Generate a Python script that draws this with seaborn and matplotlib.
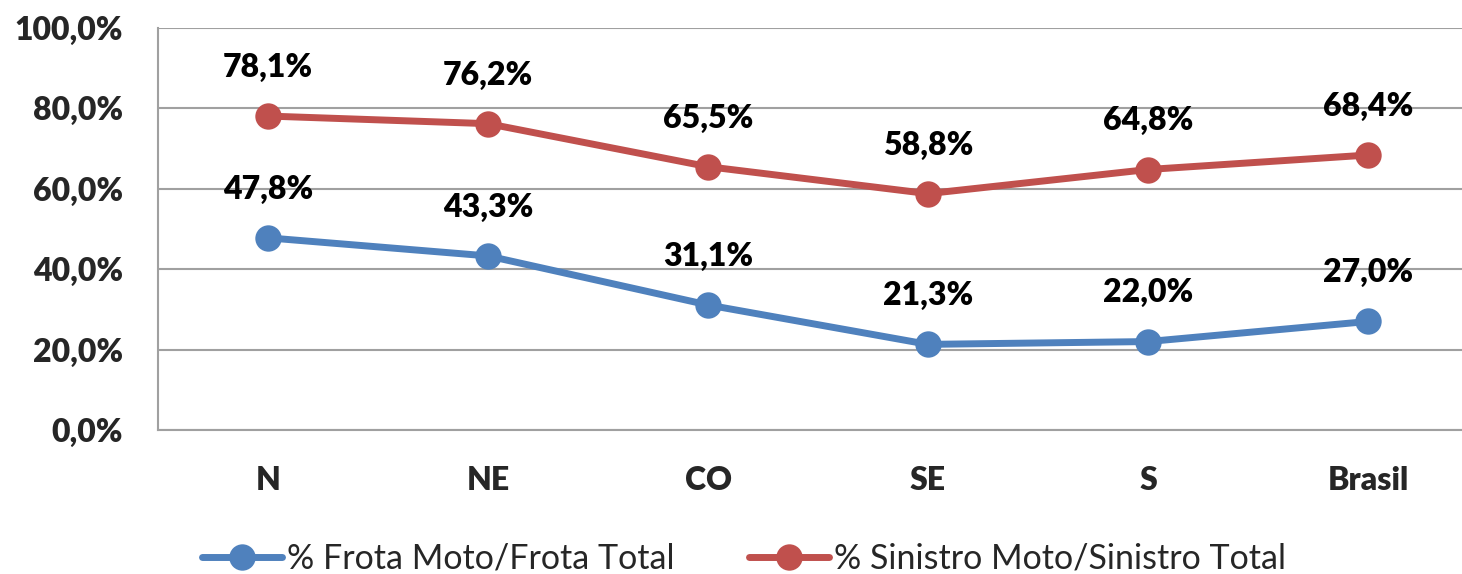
import seaborn as sns
import pandas as pd
import matplotlib.pyplot as plt
from matplotlib.ticker import FuncFormatter

regions = ['N', 'NE', 'CO', 'SE', 'S', 'Brasil']
frota = [47.8, 43.3, 31.1, 21.3, 22.0, 27.0]
sinistro = [78.1, 76.2, 65.5, 58.8, 64.8, 68.4]
series_names = ['% Frota Moto/Frota Total', '% Sinistro Moto/Sinistro Total']
colors = ['#4F81BD', '#C0504D']

df = pd.DataFrame({
    'regiao': regions * 2,
    'valor': frota + sinistro,
    'serie': [series_names[0]] * len(regions) + [series_names[1]] * len(regions),
})

sns.set_style('white')
plt.rcParams['font.family'] = ['Lato', 'DejaVu Sans']

fig = plt.figure(figsize=(14.62, 5.74), dpi=100)
ax = fig.add_axes([158 / 1462, 1 - 430 / 574, 1320 / 1462, 402 / 574])

sns.lineplot(data=df, x='regiao', y='valor', hue='serie', palette=colors,
             marker='o', markersize=19, linewidth=5, markeredgewidth=0,
             sort=False, ax=ax)

for vals in [frota, sinistro]:
    for i, v in enumerate(vals):
        ax.annotate(f'{v:.1f}%'.replace('.', ','), (i, v), xytext=(0, 35),
                    textcoords='offset points', ha='center', va='center',
                    fontsize=23, fontweight='heavy', color='black')

ax.set_xlim(-0.5, 5.5)
ax.set_ylim(0, 100)
ax.set_yticks([0, 20, 40, 60, 80, 100])
ax.yaxis.set_major_formatter(FuncFormatter(lambda v, p: f'{v:.1f}%'.replace('.', ',')))
ax.grid(axis='y', color='#A0A0A0', linewidth=1.5)
ax.set_axisbelow(True)
for s in ['top', 'right']:
    ax.spines[s].set_visible(False)
for s in ['left', 'bottom']:
    ax.spines[s].set_color('#A0A0A0')
    ax.spines[s].set_linewidth(1.5)

ax.set_xticks([i + 0.5 for i in range(-1, 6)], minor=True)
ax.tick_params(axis='x', which='minor', length=8, width=1.5, color='#A0A0A0', direction='out')
ax.tick_params(axis='x', which='major', length=0, pad=26, labelsize=23)
ax.tick_params(axis='y', length=9, width=1.5, color='#A0A0A0', labelsize=23, pad=16)
for lbl in ax.get_xticklabels() + ax.get_yticklabels():
    lbl.set_fontweight('heavy')
ax.set_xlabel('')
ax.set_ylabel('')

leg = ax.legend(loc='center', bbox_to_anchor=(0.5 * 1462 / 1320 - 158 / 1320 + 0.01, -0.32),
                ncol=2, frameon=False, fontsize=24.5, handlelength=2.35,
                columnspacing=2.2, handletextpad=0.15)
for h in leg.legend_handles:
    h.set_markersize(19)
    h.set_linewidth(5)

fig.savefig('out.png', dpi=100)
